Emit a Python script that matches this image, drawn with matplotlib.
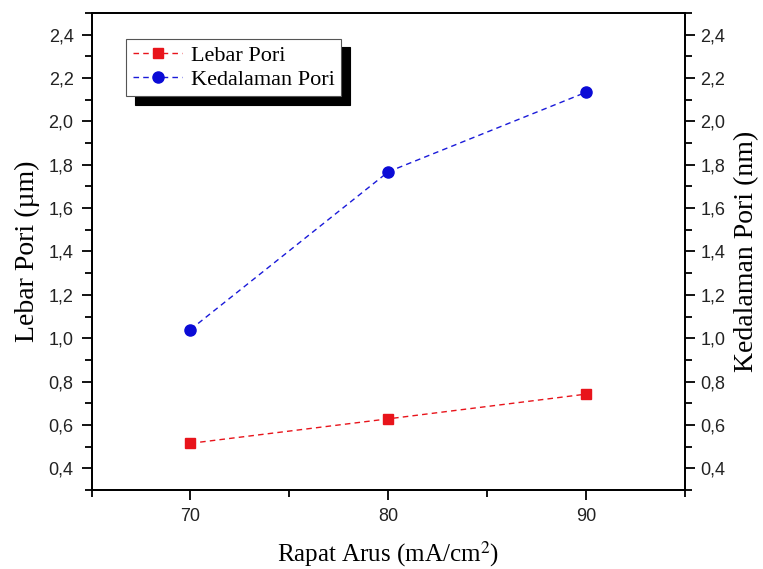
import numpy as np
import matplotlib
matplotlib.use("Agg")
import matplotlib.pyplot as plt
from matplotlib.ticker import MultipleLocator, FuncFormatter

plt.rcParams["mathtext.fontset"] = "stix"

# data
rapat_arus = [70, 80, 90]
lebar_pori = [0.515, 0.628, 0.742]
kedalaman_pori = [1.04, 1.768, 2.135]

y_ticks = [0.4, 0.6, 0.8, 1.0, 1.2, 1.4, 1.6, 1.8, 2.0, 2.2, 2.4]
x_ticks = [70, 80, 90]

sans = "Liberation Sans"
serif = "Liberation Serif"

fig = plt.figure(figsize=(7.63, 5.69), dpi=100)
ax = fig.add_axes([0.12, 0.139, 0.778, 0.838])
ax2 = ax.twinx()

l1, = ax.plot(rapat_arus, lebar_pori, color="#e8141b", ls=(0, (4, 3)), lw=1,
              marker="s", ms=7, mfc="#e8141b", mec="#e8141b", label="Lebar Pori")
l2, = ax2.plot(rapat_arus, kedalaman_pori, color="#1a1ad9", ls=(0, (4, 3)), lw=1,
               marker="o", ms=8, mfc="#0b0bd6", mec="#0b0bd6", label="Kedalaman Pori")

comma = FuncFormatter(lambda v, p: f"{v:.1f}".replace(".", ","))
for a in (ax, ax2):
    a.set_xlim(65, 95)
    a.set_ylim(0.3, 2.5)
    a.set_yticks(y_ticks)
    a.yaxis.set_minor_locator(MultipleLocator(0.1))
    a.yaxis.set_major_formatter(comma)
    for s in a.spines.values():
        s.set_linewidth(1.3)

ax.set_xticks(x_ticks)
ax.xaxis.set_minor_locator(MultipleLocator(5))
ax.tick_params(axis="both", which="major", direction="out", length=7, width=1.3,
               labelsize=13, pad=6)
ax.tick_params(axis="both", which="minor", direction="out", length=5, width=1.3)
ax2.tick_params(axis="y", which="major", direction="out", length=7, width=1.3,
                labelsize=13, pad=4)
ax2.tick_params(axis="y", which="minor", direction="out", length=5, width=1.3)
for lab in ax.get_xticklabels() + ax.get_yticklabels() + ax2.get_yticklabels():
    lab.set_fontfamily(sans)
    lab.set_color("#222222")

ax.set_xlabel("Rapat Arus (mA/cm$^{2}$)", fontfamily=serif, fontsize=18, labelpad=10)
ax.set_ylabel("Lebar Pori (µm)", fontfamily=serif, fontsize=20, labelpad=6)
ax2.set_ylabel("Kedalaman Pori (nm)", fontfamily=serif, fontsize=20, labelpad=6)

leg = ax2.legend(handles=[l1, l2], loc="upper left", bbox_to_anchor=(0.04, 0.97),
                 prop={"family": serif, "size": 16}, frameon=True, fancybox=False,
                 shadow={"color": "black", "alpha": 1, "ox": 6, "oy": -6},
                 edgecolor="#555555", borderpad=0.3, handlelength=2.2,
                 handletextpad=0.4, labelspacing=0.15, numpoints=1)
leg.get_frame().set_linewidth(0.8)

fig.savefig("out.png", dpi=100)
